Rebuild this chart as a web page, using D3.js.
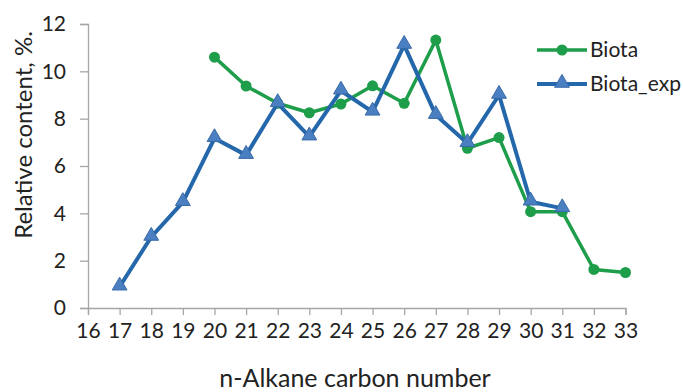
<!DOCTYPE html>
<html>
<head>
<meta charset="utf-8">
<script src="https://cdn.jsdelivr.net/npm/d3@7"></script>
<style>
  html, body { margin: 0; padding: 0; background: #fff; }
  svg text { font-family: Lato, "Open Sans", sans-serif; fill: #222; }
</style>
</head>
<body>
<svg id="chart" width="683" height="392"></svg>
<script>
// ── Data ────────────────────────────────────────────────────────────────────
const biotaX   = [20, 21, 22, 23, 24, 25, 26, 27, 28, 29, 30, 31, 32, 33];
const biotaY   = [10.6, 9.38, 8.65, 8.25, 8.62, 9.39, 8.65, 11.32, 6.75, 7.2, 4.07, 4.07, 1.63, 1.5];
const expX     = [17, 18, 19, 20, 21, 22, 23, 24, 25, 26, 27, 28, 29, 30, 31];
const expY     = [0.9, 3.0, 4.47, 7.17, 6.46, 8.65, 7.24, 9.18, 8.29, 11.11, 8.15, 6.96, 9.0, 4.49, 4.21];
const xTicks   = d3.range(16, 34);
const yTicks   = [0, 2, 4, 6, 8, 10, 12];
const seriesNames = ['Biota', 'Biota_exp'];

const GREEN = '#1e9e4a';
const BLUE  = '#2467ab';
const TRI   = '#4a7fc1';

const M = { left: 88, top: 24, right: 683 - 625.5, bottom: 392 - 308 };
const W = 683, H = 392;

const svg = d3.select('#chart');

const x = d3.scaleLinear().domain([16, 33]).range([M.left, W - M.right]);
const y = d3.scaleLinear().domain([0, 12]).range([H - M.bottom, M.top]);

// ── Axes ────────────────────────────────────────────────────────────────────
const yAx = svg.append('g')
  .attr('transform', `translate(${M.left},0)`)
  .call(d3.axisLeft(y).tickValues(yTicks).tickSize(8).tickPadding(14));
const xAx = svg.append('g')
  .attr('transform', `translate(0,${H - M.bottom})`)
  .call(d3.axisBottom(x).tickValues(xTicks).tickSize(7).tickPadding(4));

[xAx, yAx].forEach(ax => {
  ax.select('.domain').attr('stroke', '#a6a6a6').attr('stroke-width', 1.3);
  ax.selectAll('.tick line').attr('stroke', '#a6a6a6').attr('stroke-width', 1.3);
  ax.selectAll('.tick text')
    .attr('font-family', 'Lato, "Open Sans", sans-serif')
    .attr('font-size', 21).attr('fill', '#222');
});
xAx.selectAll('.tick text').attr('dy', '0.9em');

// Axis titles
svg.append('text')
  .attr('x', 355).attr('y', 387)
  .attr('text-anchor', 'middle')
  .attr('font-size', 25)
  .text('n-Alkane carbon number');

svg.append('text')
  .attr('transform', 'translate(32,135) rotate(-90)')
  .attr('text-anchor', 'middle')
  .attr('font-size', 24)
  .text('Relative content,  %.');

// ── Lines ───────────────────────────────────────────────────────────────────
const biota = biotaX.map((d, i) => [d, biotaY[i]]);
const exp   = expX.map((d, i) => [d, expY[i]]);

const line = d3.line().x(d => x(d[0])).y(d => y(d[1]));

svg.append('path')
  .attr('d', line(biota))
  .attr('fill', 'none').attr('stroke', GREEN).attr('stroke-width', 3.5)
  .attr('stroke-linejoin', 'round');

svg.append('g').selectAll('circle')
  .data(biota).join('circle')
  .attr('cx', d => x(d[0])).attr('cy', d => y(d[1]))
  .attr('r', 5.5).attr('fill', GREEN);

svg.append('path')
  .attr('d', line(exp))
  .attr('fill', 'none').attr('stroke', BLUE).attr('stroke-width', 4)
  .attr('stroke-linejoin', 'round');

const tri = d3.symbol().type(d3.symbolTriangle).size(95);
svg.append('g').selectAll('path')
  .data(exp).join('path')
  .attr('transform', d => `translate(${x(d[0])},${y(d[1]) - 1})`)
  .attr('d', tri)
  .attr('fill', TRI).attr('stroke', '#3a6aa8').attr('stroke-width', 1);

// ── Legend ──────────────────────────────────────────────────────────────────
const legend = svg.append('g').attr('transform', 'translate(537,50)');
seriesNames.forEach((name, i) => {
  const g = legend.append('g').attr('transform', `translate(0,${i * 34})`);
  const col = i === 0 ? GREEN : BLUE;
  g.append('line').attr('x1', 0).attr('x2', 50).attr('y1', 0).attr('y2', 0)
    .attr('stroke', col).attr('stroke-width', i === 0 ? 3.5 : 4);
  if (i === 0) {
    g.append('circle').attr('cx', 25).attr('cy', 0).attr('r', 5.5).attr('fill', GREEN);
  } else {
    g.append('path').attr('transform', 'translate(25,-1)').attr('d', tri)
      .attr('fill', TRI).attr('stroke', '#3a6aa8').attr('stroke-width', 1);
  }
  g.append('text').attr('x', 53).attr('y', 0).attr('dy', '0.35em')
    .attr('font-size', 21).text(name);
});
</script>
</body>
</html>
